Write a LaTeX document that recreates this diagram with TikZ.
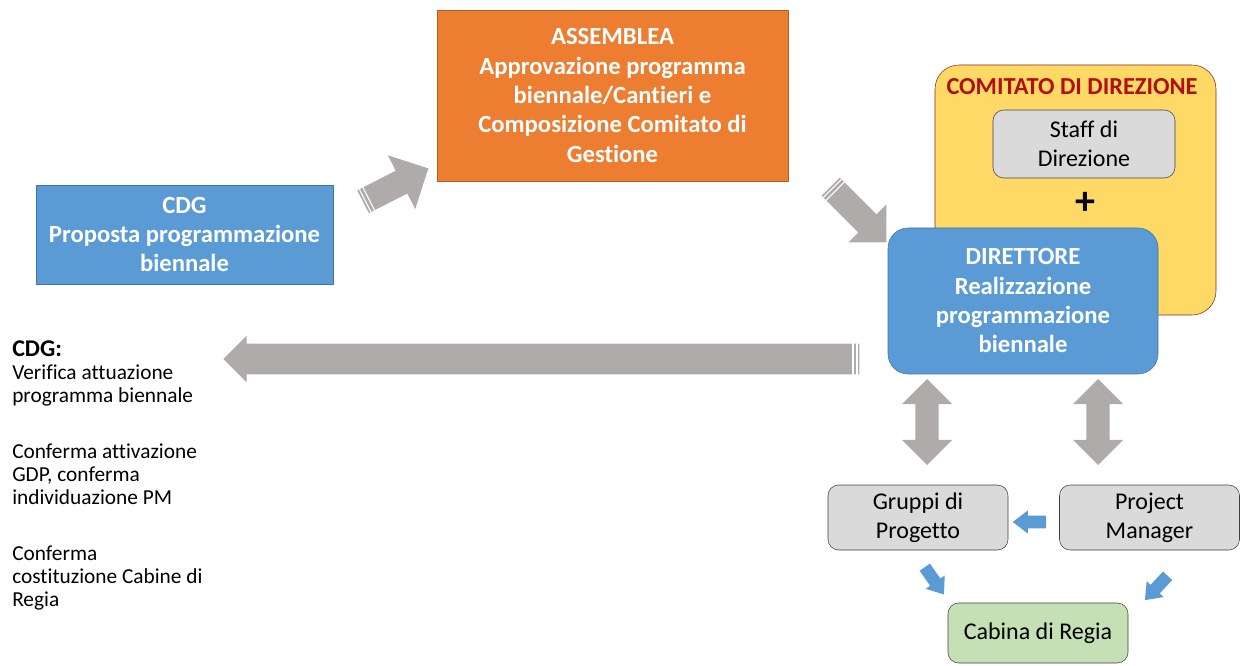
\documentclass[tikz,border=0pt]{standalone}
\usepackage{fontspec}
\setmainfont{Carlito}[RawFeature={-liga}]
\usetikzlibrary{shapes.arrows,calc}

\definecolor{boxblue}{HTML}{5B9BD5}
\definecolor{boxorange}{HTML}{ED7D31}
\definecolor{boxyellow}{HTML}{FFD966}
\definecolor{boxgray}{HTML}{DADADA}
\definecolor{boxgreen}{HTML}{C5E0B4}
\definecolor{arrowgray}{HTML}{AFABAB}
\definecolor{titlered}{HTML}{B01010}

\begin{document}
\begin{tikzpicture}[x=0.75pt, y=-0.75pt,
    box/.style={rectangle, draw, align=center, inner sep=0pt, font=\fontsize{18}{22}\selectfont},
    bluebox/.style={box, fill=boxblue, draw=boxblue!75!black, text=white, font=\fontsize{18.5}{22}\selectfont\bfseries},
    graybox/.style={box, fill=boxgray, draw=black!75, rounded corners=8pt, minimum width=135pt, minimum height=48.75pt},
    bigarrow/.style={single arrow, fill=arrowgray, draw=none, inner xsep=0pt, single arrow tip angle=90},
    twoway/.style={double arrow, fill=arrowgray, draw=none, inner xsep=0pt, inner ysep=8.6pt, double arrow tip angle=90, minimum height=64.5pt, double arrow head extend=10pt, rotate=90},
    smallarrow/.style={single arrow, fill=boxblue, draw=none, inner xsep=0pt, inner ysep=4.5pt, single arrow tip angle=75, minimum height=25pt, single arrow head extend=4pt}
]
    \useasboundingbox (0,0) rectangle (1246,666);

    % top row
    \node[bluebox, minimum width=222.75pt, minimum height=74.25pt] (cdg) at (184.5,234.5) {CDG\\Proposta programmazione\\biennale};
    \node[box, fill=boxorange, draw=boxorange!75!black, text=white, font=\fontsize{18.5}{22}\selectfont\bfseries, minimum width=263.25pt, minimum height=128.25pt] (assemblea) at (612.5,95.5) {ASSEMBLEA\\Approvazione programma\\biennale/Cantieri e\\Composizione Comitato di\\Gestione};

    % comitato di direzione
    \node[box, fill=boxyellow, draw=red!45!black!85, rounded corners=18pt, minimum width=210.75pt, minimum height=187.5pt] (comitato) at (1075.5,190) {};
    \node[text=titlered, font=\fontsize{18.3}{20}\selectfont\bfseries] (comtitle) at (1072,87) {COMITATO DI DIREZIONE};
    \node[graybox, minimum width=136.5pt, minimum height=51pt] (staff) at (1084,144) {Staff di\\Direzione};
    \node[font=\fontsize{30}{30}\selectfont\bfseries] (plus) at (1085,203) {+};
    \node[bluebox, rounded corners=15pt, minimum width=202.5pt, minimum height=109.5pt] (direttore) at (1023,301) {DIRETTORE\\Realizzazione\\programmazione\\biennale};

    % bottom right
    \node[graybox] (gruppi) at (918,517.5) {Gruppi di\\Progetto};
    \node[graybox] (pm) at (1149.5,517.5) {Project\\Manager};
    \node[graybox, fill=boxgreen, minimum height=45pt] (cabina) at (1038,633) {Cabina di Regia};

    % notes
    \node[anchor=north west, align=left, inner sep=0pt, font=\fontsize{16}{17.25}\selectfont] (notes) at (12,340) {{\fontsize{18}{17.25}\selectfont\bfseries CDG:}\\Verifica attuazione\\programma biennale\\[24.75pt]Conferma attivazione\\GDP, conferma\\individuazione PM\\[24.75pt]Conferma\\costituzione Cabine di\\Regia};

    % gray arrows
    \node[bigarrow, minimum height=477pt, inner ysep=11.25pt, single arrow head extend=6pt, rotate=180] (back) at (549,359) {};
    \node[bigarrow, minimum height=55pt, inner ysep=9.4pt, single arrow head extend=13pt, rotate=27] (up) at (390,188) {};
    \node[bigarrow, minimum height=59pt, inner ysep=9.4pt, single arrow head extend=10.5pt, rotate=-45] (down) at (854,210) {};
    \foreach \a in {back,up,down}
        \foreach \d in {2pt,5pt} {
            \coordinate (s) at ($(\a.tail)!\d!(\a.tip)$);
            \draw[white, line width=0.8pt] ($(s)!14pt!90:(\a.tip)$) -- ($(s)!14pt!-90:(\a.tip)$);
        }
    \node[twoway] (linkl) at (927,422) {};
    \node[twoway] (linkr) at (1098,422) {};

    % blue arrows
    \node[smallarrow, rotate=180] (pmgruppi) at (1033.5,522) {};
    \node[smallarrow, rotate=-55] (gruppicab) at (932,577.5) {};
    \node[smallarrow, rotate=-133] (pmcab) at (1159,585) {};
\end{tikzpicture}
\end{document}
